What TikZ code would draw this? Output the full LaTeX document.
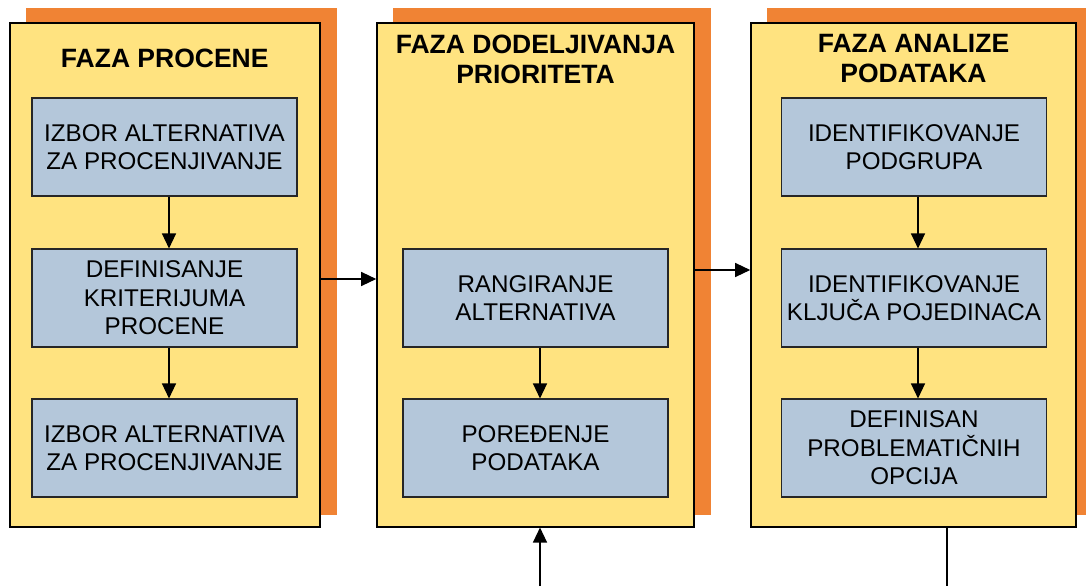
\documentclass[tikz,border=0pt]{standalone}
\usepackage{fontspec}
\setmainfont{Liberation Sans}
\usetikzlibrary{arrows.meta}
\definecolor{phaseyellow}{RGB}{255,227,128}
\definecolor{phaseorange}{RGB}{240,131,52}
\definecolor{stepblue}{RGB}{180,199,218}
\tikzset{
  panel/.style={draw=black, line width=1.6pt, fill=phaseyellow, minimum width=310pt, minimum height=504pt, inner sep=0pt},
  shadowrect/.style={fill=phaseorange, draw=none},
  stepbox/.style={draw=black!85, line width=1.1pt, fill=stepblue, minimum width=265pt, minimum height=98pt, inner sep=0pt, align=center, font=\fontsize{24.2}{28.5}\selectfont},
  ptitle/.style={align=center, font=\fontsize{26.5}{30}\selectfont\bfseries, inner sep=0pt},
  arr/.style={line width=1.3pt, -{Triangle[length=15pt,width=14pt]}},
  plain/.style={line width=1.3pt}
}
\begin{document}
\begin{tikzpicture}[x=1pt,y=-1pt]
\useasboundingbox (0,0) rectangle (1086,586);
% orange shadows
\fill[shadowrect] (26,8) rectangle (337,515);
\fill[shadowrect] (393,8) rectangle (711,515);
\fill[shadowrect] (767,8) rectangle (1086,515);
% panels
\node[panel] (p1) at (164.75,274.75) {};
\node[panel, minimum width=317pt] (p2) at (535.5,274.75) {};
\node[panel, minimum width=325pt] (p3) at (913.5,274.75) {};
% titles
\node[ptitle] (t1) at (164.75,58) {FAZA PROCENE};
\node[ptitle] (t2) at (535.5,59) {FAZA DODELJIVANJA\\PRIORITETA};
\node[ptitle] (t3) at (913.5,59) {FAZA ANALIZE\\PODATAKA};
% boxes panel 1
\node[stepbox] (a1) at (164.5,147) {IZBOR ALTERNATIVA\\ZA PROCENJIVANJE};
\node[stepbox] (a2) at (164.5,298) {DEFINISANJE\\KRITERIJUMA\\PROCENE};
\node[stepbox] (a3) at (164.5,448) {IZBOR ALTERNATIVA\\ZA PROCENJIVANJE};
% boxes panel 2
\node[stepbox] (b1) at (535.5,298) {RANGIRANJE\\ALTERNATIVA};
\node[stepbox] (b2) at (535.5,448) {POREĐENJE\\PODATAKA};
% boxes panel 3
\node[stepbox] (c1) at (914,147) {IDENTIFIKOVANJE\\PODGRUPA};
\node[stepbox] (c2) at (914,298) {IDENTIFIKOVANJE\\KLJUČA POJEDINACA};
\node[stepbox] (c3) at (914,448) {DEFINISAN\\PROBLEMATIČNIH\\OPCIJA};
% inner arrows (slightly right of box centres)
\coordinate (va) at (169,0);
\coordinate (vb) at (540,0);
\coordinate (vc) at (918,0);
\draw[arr] (va |- a1.south) -- (va |- a2.north);
\draw[arr] (va |- a2.south) -- (va |- a3.north);
\draw[arr] (vb |- b1.south) -- (vb |- b2.north);
\draw[arr] (vc |- c1.south) -- (vc |- c2.north);
\draw[arr] (vc |- c2.south) -- (vc |- c3.north);
% between panels
\coordinate (h1) at (0,279);
\coordinate (h2) at (0,270);
\draw[arr] (p1.east |- h1) -- (p2.west |- h1);
\draw[arr] (p2.east |- h2) -- (p3.west |- h2);
% bottom connectors
\coordinate (in2) at (540,586);
\coordinate (out3) at (947,586);
\draw[arr] (in2) -- (in2 |- p2.south);
\draw[plain] (out3 |- p3.south) -- (out3);
\end{tikzpicture}
\end{document}
